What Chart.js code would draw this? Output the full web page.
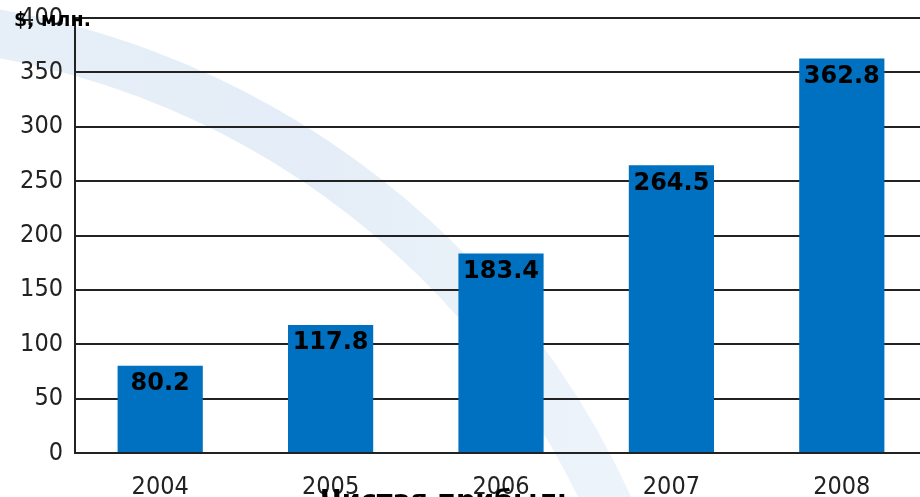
<!DOCTYPE html>
<html lang="ru">
<head>
    <meta charset="UTF-8">
    <title>Чистая прибыль</title>
    <script src="https://cdn.jsdelivr.net/npm/chart.js"></script>
    <style>
        html, body {
            margin: 0;
            padding: 0;
            background: #ffffff;
            overflow: hidden;
        }
        .wrap {
            position: relative;
            width: 930px;
            height: 497px;
        }
        .unit {
            position: absolute;
            left: 14px;
            top: 10px;
            font: bold 19px 'DejaVu Sans', sans-serif;
            color: #000;
            line-height: 1;
        }
        .title {
            position: absolute;
            left: 320px;
            top: 486px;
            font: bold 27px 'DejaVu Sans', sans-serif;
            line-height: 1;
            color: #000;
            white-space: nowrap;
        }
    </style>
</head>
<body>
    <div class="wrap">
        <canvas id="profitChart" width="930" height="497"></canvas>
        <div class="unit">$, млн.</div>
        <div class="title">Чистая прибыль</div>
    </div>

    <script>
        // данные
        const years = ['2004', '2005', '2006', '2007', '2008'];
        const profit = [80.2, 117.8, 183.4, 264.5, 362.8];
        const yTicks = [0, 50, 100, 150, 200, 250, 300, 350, 400];

        // светлая дуга на фоне
        const backdrop = {
            id: 'backdrop',
            beforeDraw(chart) {
                const ctx = chart.ctx;
                ctx.save();
                ctx.fillStyle = '#ffffff';
                ctx.fillRect(0, 0, chart.width, chart.height);
                const g = ctx.createLinearGradient(0, 0, 620, 0);
                g.addColorStop(0, 'rgba(214, 228, 243, 0.6)');
                g.addColorStop(0.5, 'rgba(214, 228, 243, 0.65)');
                g.addColorStop(1, 'rgba(222, 234, 246, 0.55)');
                ctx.strokeStyle = g;
                ctx.lineWidth = 48;
                ctx.beginPath();
                ctx.arc(-146, 851, 830, -86 * Math.PI / 180, -18 * Math.PI / 180);
                ctx.stroke();
                ctx.restore();
            }
        };

        // подписи значений внутри столбцов
        const valueLabels = {
            id: 'valueLabels',
            afterDatasetsDraw(chart) {
                const ctx = chart.ctx;
                const meta = chart.getDatasetMeta(0);
                ctx.save();
                ctx.font = 'bold 24px "DejaVu Sans", sans-serif';
                ctx.fillStyle = '#000';
                ctx.textAlign = 'center';
                ctx.textBaseline = 'middle';
                meta.data.forEach((bar, i) => {
                    ctx.fillText(profit[i].toFixed(1), bar.x, bar.y + 18);
                });
                ctx.restore();
            }
        };

        const tickFont = { family: "'DejaVu Sans Condensed', 'DejaVu Sans', sans-serif", size: 25 };

        new Chart(document.getElementById('profitChart').getContext('2d'), {
            type: 'bar',
            data: {
                labels: years,
                datasets: [{
                    data: profit,
                    backgroundColor: '#0070C0',
                    borderWidth: 0,
                    barPercentage: 0.5,
                    categoryPercentage: 1
                }]
            },
            options: {
                responsive: false,
                animation: false,
                layout: { padding: { top: 18, right: 3, left: 0, bottom: 0 } },
                plugins: {
                    legend: { display: false },
                    tooltip: { enabled: false }
                },
                scales: {
                    x: {
                        grid: { display: false, drawTicks: false },
                        border: { display: false },
                        ticks: { color: '#222', font: tickFont, padding: 19 },
                        afterFit(axis) {
                            axis.height = 44;
                            axis.paddingLeft = 0;
                            axis.paddingRight = 0;
                        }
                    },
                    y: {
                        min: 0,
                        max: 400,
                        afterBuildTicks(axis) {
                            axis.ticks = yTicks.map(v => ({ value: v }));
                        },
                        grid: { color: '#222', lineWidth: 2, drawTicks: false },
                        border: { display: true, color: '#222', width: 2 },
                        ticks: { color: '#222', font: tickFont, padding: 12 },
                        afterFit(axis) {
                            axis.width = 75;
                            axis.paddingTop = 0;
                            axis.paddingBottom = 0;
                        }
                    }
                }
            },
            plugins: [backdrop, valueLabels]
        });
    </script>
</body>
</html>
